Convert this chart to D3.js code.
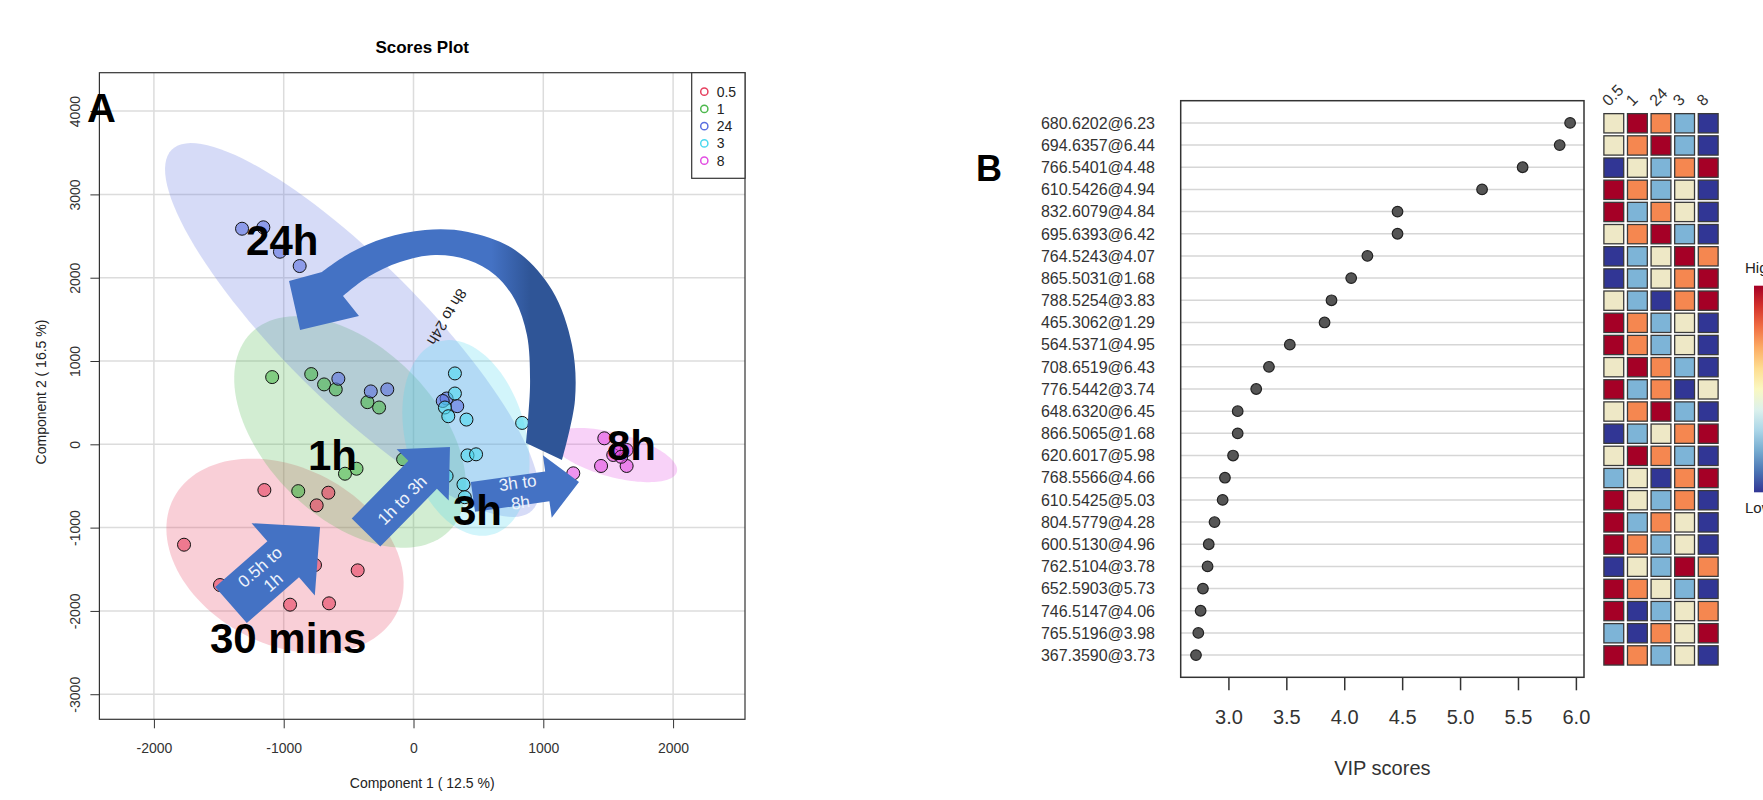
<!DOCTYPE html>
<html>
<head>
<meta charset="utf-8">
<script src="https://cdnjs.cloudflare.com/ajax/libs/d3/7.8.5/d3.min.js"></script>
<style>
body { margin:0; background:#fff; }
text { font-family: "Liberation Sans", Arial, sans-serif; }
</style>
</head>
<body>
<script>
// ---------- panel A data (scores plot) ----------
var groups = ['0.5', '1', '24', '3', '8']
var scoreGroup = ['0.5','0.5','0.5','0.5','0.5','0.5','0.5','0.5','0.5',
    '1','1','1','1','1','1','1','1','1','1',
    '24','24','24','24','24','24','24','24','24','24',
    '3','3','3','3','3','3','3','3','3','3','3',
    '8','8','8','8','8','8','8','8','8']
var scoreX = [-1149,-1768,-656,-746,-430,-951,-651,-1491,-759,
    -1089,-788,-689,-599,-355,-265,-439,-528,-888,-80,
    -1321,-1157,-1029,-877,-579,-329,-202,255,337,225,
    319,319,242,268,408,837,416,482,385,395,255,
    1470,1591,1642,1539,1445,1642,1568,1231,1600]
var scoreY = [-549,-1205,-581,-733,-1513,-1925,-1909,-1689,-1449,
    807,843,719,659,506,442,-293,-353,-562,-180,
    2588,2605,2312,2140,787,635,659,550,458,520,
    851,610,442,337,297,257,-133,-120,-482,-635,-381,
    72,-68,-68,-128,-260,-260,-56,-348,-150]
// confidence ellipses: centre + two conjugate semi-diameters (data units), order of groups
var ellipseCX = [-990, -489, -474, 404, 1545]
var ellipseCY = [-1341, 148, 1372, 76, -129]
var ellipseUX = [908, 763, 1389, 200, 484]
var ellipseUY = [-199, -1188, -2164, -1160, -202]
var ellipseVX = [104, -463, -381, -447, -44]
var ellipseVY = [-1152, -721, -594, -186, -255]
var scoreXTicks = [-2000, -1000, 0, 1000, 2000]
var scoreYTicks = [-3000, -2000, -1000, 0, 1000, 2000, 3000, 4000]

// annotations drawn over the scores plot (data units)
var stepLabels = [['0.5h to', '1h'], ['1h to 3h'], ['3h to', '8h']]
var stepFrom = [[-1406, -1929], [-366, -1059], [458, -632]]
var stepTo = [[-720, -993], [281, -32], [1275, -452]]
var stepTextAt = [[-1133, -1563], [-89, -670], [813, -579]]
var timeLabels = ['24h', '1h', '3h', '8h', '30 mins']
var timeLabelAt = [[-1290, 2272], [-813, -309], [304, -969], [1491, -189], [-1568, -2505]]
var curveOuter = [[1144,-188],[1244,532],[1221,1192],[1067,1852],[782,2333],[420,2549],[89,2573],[-220,2477],[-489,2297],[-705,2069]]
var curveHead = [[-959,1961],[-874,1372],[-420,1540]]
var curveInner = [[-543,1780],[-351,2008],[-104,2188],[166,2272],[420,2212],[628,2032],[782,1732],[874,1312],[898,772],[882,292],[867,16]]
var curveLabel = '8h to 24h'
var curveLabelAt = [258, 1529]

// ---------- panel B data (VIP scores) ----------
var features = ['680.6202@6.23','694.6357@6.44','766.5401@4.48','610.5426@4.94','832.6079@4.84',
    '695.6393@6.42','764.5243@4.07','865.5031@1.68','788.5254@3.83','465.3062@1.29',
    '564.5371@4.95','708.6519@6.43','776.5442@3.74','648.6320@6.45','866.5065@1.68',
    '620.6017@5.98','768.5566@4.66','610.5425@5.03','804.5779@4.28','600.5130@4.96',
    '762.5104@3.78','652.5903@5.73','746.5147@4.06','765.5196@3.98','367.3590@3.73']
var vipScores = [5.95,5.86,5.54,5.19,4.46,4.46,4.20,4.06,3.89,3.83,3.53,3.35,3.24,3.08,3.08,
    3.04,2.97,2.95,2.88,2.83,2.82,2.78,2.76,2.74,2.72]
// relative level per group (5 = high ... 1 = low), columns in order of groups
var heatRanks = [[3,5,4,2,1],[3,4,5,2,1],[1,3,2,4,5],[5,4,2,3,1],[5,2,4,3,1],
    [3,4,5,2,1],[1,2,3,5,4],[1,2,3,4,5],[3,2,1,4,5],[5,4,2,3,1],
    [5,4,2,3,1],[3,5,4,2,1],[5,2,4,1,3],[3,4,5,2,1],[1,2,3,4,5],
    [3,5,4,2,1],[2,3,1,4,5],[5,3,2,4,1],[5,2,4,3,1],[5,4,2,3,1],
    [1,3,2,5,4],[5,4,3,2,1],[5,1,2,3,4],[2,1,4,3,5],[5,4,2,3,1]]
var vipTicks = [3.0, 3.5, 4.0, 4.5, 5.0, 5.5, 6.0]

// styles
var groupColor = {'0.5':'#E6405F', '1':'#4DB84D', '24':'#5B6FE0', '3':'#4DD8EE', '8':'#E24DE2'}
var heatColor = {5:'#A50026', 4:'#F58750', 3:'#EEE8C6', 2:'#7DB4D7', 1:'#313695'}

var svg = d3.select('body').append('svg')
    .attr('width', 1763)
    .attr('height', 800)
svg.append('rect').attr('width', 1763).attr('height', 800).attr('fill', '#fff')
var defs = svg.append('defs')

// ================= panel A =================
var plotA = {left:99.4, right:745, top:72.7, bottom:719.3}
var sx = d3.scaleLinear().domain([-2420, 2554]).range([plotA.left, plotA.right])
var sy = d3.scaleLinear().domain([-3301, 4461]).range([plotA.bottom, plotA.top])

defs.append('clipPath').attr('id', 'clipA')
    .append('rect')
    .attr('x', plotA.left).attr('y', plotA.top)
    .attr('width', plotA.right-plotA.left).attr('height', plotA.bottom-plotA.top)

var gA = svg.append('g')

// grid
gA.selectAll('.gx').data(scoreXTicks).enter().append('line')
    .attr('x1', d => sx(d)).attr('x2', d => sx(d))
    .attr('y1', plotA.top).attr('y2', plotA.bottom)
    .attr('stroke', '#dcdcdc').attr('stroke-width', 1.5)
gA.selectAll('.gy').data(scoreYTicks).enter().append('line')
    .attr('y1', d => sy(d)).attr('y2', d => sy(d))
    .attr('x1', plotA.left).attr('x2', plotA.right)
    .attr('stroke', '#dcdcdc').attr('stroke-width', 1.5)

// ellipses
var inner = gA.append('g').attr('clip-path', 'url(#clipA)')
var ellLine = d3.line().x(d => sx(d[0])).y(d => sy(d[1])).curve(d3.curveLinearClosed)
groups.forEach(function(g, i){
    var pts = d3.range(120).map(function(k){
        var t = k/120*2*Math.PI
        return [ellipseCX[i] + ellipseUX[i]*Math.cos(t) + ellipseVX[i]*Math.sin(t),
                ellipseCY[i] + ellipseUY[i]*Math.cos(t) + ellipseVY[i]*Math.sin(t)]
    })
    inner.append('path')
        .attr('d', ellLine(pts))
        .attr('fill', groupColor[g])
        .attr('fill-opacity', 0.25)
})

// points
inner.selectAll('circle.pt').data(d3.range(scoreX.length)).enter().append('circle')
    .attr('class', 'pt')
    .attr('cx', i => sx(scoreX[i]))
    .attr('cy', i => sy(scoreY[i]))
    .attr('r', 6.5)
    .attr('fill', i => groupColor[scoreGroup[i]])
    .attr('fill-opacity', 0.6)
    .attr('stroke', '#111')
    .attr('stroke-width', 1)

// box
gA.append('rect')
    .attr('x', plotA.left).attr('y', plotA.top)
    .attr('width', plotA.right-plotA.left).attr('height', plotA.bottom-plotA.top)
    .attr('fill', 'none').attr('stroke', '#333').attr('stroke-width', 1.2)

// axes (plain hyphen minus, no thousands separator)
var axA = gA.append('g')
    .attr('transform', 'translate(0,' + plotA.bottom + ')')
    .call(d3.axisBottom(sx).tickValues(scoreXTicks).tickSize(9).tickPadding(15).tickFormat(d => String(d)))
var ayA = gA.append('g')
    .attr('transform', 'translate(' + plotA.left + ',0)')
    .call(d3.axisLeft(sy).tickValues(scoreYTicks).tickSize(9).tickFormat(d => String(d)))
ayA.selectAll('text')
    .attr('transform', 'rotate(-90)')
    .attr('text-anchor', 'middle')
    .attr('x', 0).attr('y', -19).attr('dy', 0)
;[axA, ayA].forEach(function(a){
    a.select('.domain').remove()
    a.selectAll('line').attr('stroke', '#333')
    a.selectAll('text').attr('font-size', 14).attr('fill', '#333')
        .attr('font-family', '"Liberation Sans", Arial, sans-serif')
})

gA.append('text')
    .attr('x', (plotA.left+plotA.right)/2).attr('y', 53)
    .attr('text-anchor', 'middle').attr('font-size', 17).attr('font-weight', 'bold')
    .text('Scores Plot')
gA.append('text')
    .attr('x', (plotA.left+plotA.right)/2).attr('y', 788)
    .attr('text-anchor', 'middle').attr('font-size', 14).attr('fill', '#222')
    .text('Component 1 ( 12.5 %)')
gA.append('text')
    .attr('transform', 'translate(46,392) rotate(-90)')
    .attr('text-anchor', 'middle').attr('font-size', 14).attr('fill', '#222')
    .text('Component 2 ( 16.5 %)')

// legend
var leg = gA.append('g')
leg.append('rect')
    .attr('x', 691.7).attr('y', plotA.top)
    .attr('width', plotA.right-691.7).attr('height', 105.6)
    .attr('fill', '#fff').attr('stroke', '#333').attr('stroke-width', 1.2)
groups.forEach(function(g, i){
    leg.append('circle')
        .attr('cx', 704.3).attr('cy', 91.7 + i*17.25).attr('r', 3.6)
        .attr('fill', 'none').attr('stroke', groupColor[g]).attr('stroke-width', 1.5)
    leg.append('text')
        .attr('x', 716.7).attr('y', 91.7 + i*17.25).attr('dy', '0.36em')
        .attr('font-size', 14).attr('fill', '#222')
        .text(g)
})

// step arrows
var arrowShaft = [48, 40, 30], arrowHeadW = [96, 73, 63], arrowHeadL = [49, 39, 32]
var stepAngle = [-41, -45, -8]
function blockArrow(t, p, w, hw, hl){
    var dx = p[0]-t[0], dy = p[1]-t[1], len = Math.sqrt(dx*dx+dy*dy)
    var ux = dx/len, uy = dy/len, nx = -uy, ny = ux
    var b = [p[0]-ux*hl, p[1]-uy*hl]
    return [[t[0]+nx*w/2, t[1]+ny*w/2], [b[0]+nx*w/2, b[1]+ny*w/2], [b[0]+nx*hw/2, b[1]+ny*hw/2],
        p, [b[0]-nx*hw/2, b[1]-ny*hw/2], [b[0]-nx*w/2, b[1]-ny*w/2], [t[0]-nx*w/2, t[1]-ny*w/2]]
}
var annot = svg.append('g')
stepLabels.forEach(function(lab, i){
    var t = [sx(stepFrom[i][0]), sy(stepFrom[i][1])]
    var p = [sx(stepTo[i][0]), sy(stepTo[i][1])]
    annot.append('path')
        .attr('d', d3.line()(blockArrow(t, p, arrowShaft[i], arrowHeadW[i], arrowHeadL[i])) + 'Z')
        .attr('fill', '#4472C4')
    var tx = annot.append('text')
        .attr('transform', 'translate(' + sx(stepTextAt[i][0]) + ',' + sy(stepTextAt[i][1]) + ') rotate(' + stepAngle[i] + ')')
        .attr('text-anchor', 'middle').attr('font-size', 17).attr('fill', '#eef2fb')
    lab.forEach(function(s, k){
        tx.append('tspan').attr('x', 0)
            .attr('y', (k - (lab.length-1)/2)*20).attr('dy', '0.35em')
            .text(s)
    })
})

// curved arrow 8h -> 24h
var grad = defs.append('linearGradient').attr('id', 'curveGrad')
    .attr('gradientUnits', 'userSpaceOnUse')
    .attr('x1', sx(600)).attr('x2', sx(900)).attr('y1', 0).attr('y2', 0)
grad.append('stop').attr('offset', 0).attr('stop-color', '#4472C4')
grad.append('stop').attr('offset', 1).attr('stop-color', '#2F5597')
var cLine = d3.line().x(d => sx(d[0])).y(d => sy(d[1])).curve(d3.curveCatmullRom)
var headPath = curveHead.map(d => 'L' + sx(d[0]) + ',' + sy(d[1])).join('')
annot.append('path')
    .attr('d', cLine(curveOuter) + headPath + cLine(curveInner).replace(/^M/, 'L') + 'Z')
    .attr('fill', 'url(#curveGrad)')
annot.append('text')
    .attr('transform', 'translate(' + sx(curveLabelAt[0]) + ',' + sy(curveLabelAt[1]) + ') rotate(121)')
    .attr('text-anchor', 'middle').attr('dy', '0.35em')
    .attr('font-size', 15).attr('fill', '#222')
    .text(curveLabel)

// big time labels
annot.selectAll('text.tl').data(timeLabels).enter().append('text')
    .attr('class', 'tl')
    .attr('x', (d, i) => sx(timeLabelAt[i][0]))
    .attr('y', (d, i) => sy(timeLabelAt[i][1]))
    .attr('font-size', 42).attr('font-weight', 'bold').attr('fill', '#000')
    .text(d => d)

svg.append('text').attr('x', 87).attr('y', 122)
    .attr('font-size', 40).attr('font-weight', 'bold').text('A')

// ================= panel B =================
var boxB = {left:1180.7, right:1584, top:100.7, bottom:677.3}
var vx = d3.scaleLinear().domain([2.588, 6.07]).range([boxB.left, boxB.right])
var vy = d3.scaleLinear().domain([0, features.length+1]).range([boxB.top, boxB.bottom])
var gB = svg.append('g')

gB.selectAll('line.row').data(features).enter().append('line')
    .attr('x1', boxB.left).attr('x2', boxB.right)
    .attr('y1', (d, i) => vy(i+1)).attr('y2', (d, i) => vy(i+1))
    .attr('stroke', '#d6d6d6').attr('stroke-width', 1.5)
gB.append('rect')
    .attr('x', boxB.left).attr('y', boxB.top)
    .attr('width', boxB.right-boxB.left).attr('height', boxB.bottom-boxB.top)
    .attr('fill', 'none').attr('stroke', '#333').attr('stroke-width', 1.5)
gB.selectAll('circle').data(vipScores).enter().append('circle')
    .attr('cx', d => vx(d))
    .attr('cy', (d, i) => vy(i+1))
    .attr('r', 5.3)
    .attr('fill', '#555').attr('stroke', '#222').attr('stroke-width', 1.2)
gB.selectAll('text.feat').data(features).enter().append('text')
    .attr('class', 'feat')
    .attr('x', 1155).attr('y', (d, i) => vy(i+1)).attr('dy', '0.36em')
    .attr('text-anchor', 'end').attr('font-size', 16).attr('fill', '#333')
    .text(d => d)

var axB = gB.append('g')
    .attr('transform', 'translate(0,' + boxB.bottom + ')')
    .call(d3.axisBottom(vx).tickValues(vipTicks).tickSize(13).tickPadding(20).tickFormat(d3.format('.1f')))
axB.select('.domain').remove()
axB.selectAll('line').attr('stroke', '#333').attr('stroke-width', 1.5)
axB.selectAll('text').attr('font-size', 20).attr('fill', '#333')
    .attr('font-family', '"Liberation Sans", Arial, sans-serif')
gB.append('text')
    .attr('x', (boxB.left+boxB.right)/2).attr('y', 775)
    .attr('text-anchor', 'middle').attr('font-size', 20).attr('fill', '#333')
    .text('VIP scores')

// heatmap
var hx = d3.scaleBand().domain(groups).range([1602, 1720]).paddingInner(0.16).paddingOuter(0.08)
var hy = d3.scaleBand().domain(features).range([112.2, 666.5]).paddingInner(0.13).paddingOuter(0.065)
features.forEach(function(f, r){
    groups.forEach(function(g, c){
        gB.append('rect')
            .attr('x', hx(g)).attr('y', hy(f))
            .attr('width', hx.bandwidth()).attr('height', hy.bandwidth())
            .attr('fill', heatColor[heatRanks[r][c]])
            .attr('stroke', '#3a3a3a').attr('stroke-width', 1.3)
    })
})
gB.selectAll('text.col').data(groups).enter().append('text')
    .attr('class', 'col')
    .attr('transform', d => 'translate(' + (hx(d) + hx.bandwidth()/2 - 5) + ',107) rotate(-45)')
    .attr('font-size', 16).attr('fill', '#333')
    .text(d => d)

// colour key (cut by the right edge, as in the source figure)
var keyGrad = defs.append('linearGradient').attr('id', 'keyGrad')
    .attr('x1', 0).attr('x2', 0).attr('y1', 0).attr('y2', 1)
d3.range(11).forEach(function(k){
    keyGrad.append('stop').attr('offset', k/10).attr('stop-color', d3.interpolateRdYlBu(k/10))
})
gB.append('rect').attr('x', 1754).attr('y', 285.7).attr('width', 20).attr('height', 206.6)
    .attr('fill', 'url(#keyGrad)')
gB.append('text').attr('x', 1745).attr('y', 273).attr('font-size', 15).attr('fill', '#222').text('High')
gB.append('text').attr('x', 1745).attr('y', 513).attr('font-size', 15).attr('fill', '#222').text('Low')

svg.append('text').attr('x', 976).attr('y', 181)
    .attr('font-size', 36).attr('font-weight', 'bold').text('B')
</script>
</body>
</html>
